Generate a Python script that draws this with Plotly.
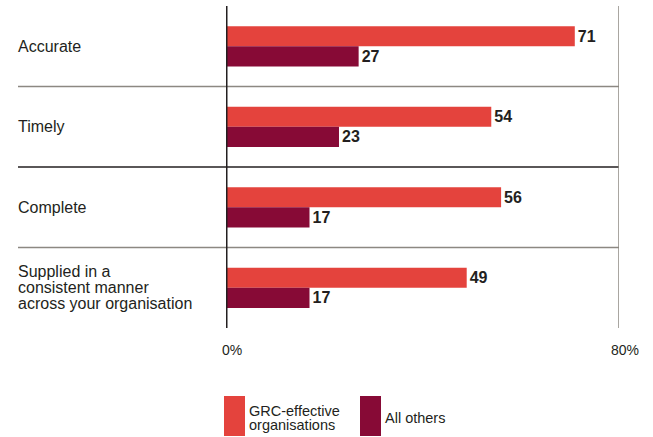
import plotly.graph_objects as go

# data (percent)
categories = ["Accurate", "Timely", "Complete",
              "Supplied in a<br>consistent manner<br>across your organisation"]
series_names = ["GRC-effective<br>organisations", "All others"]
grc_effective = [71, 54, 56, 49]
all_others = [27, 23, 17, 17]
tick_vals = [0, 80]
tick_text = ["0%", "80%"]

colors = ["#E4433D", "#870A36"]
text_color = "#231F20"
font_family = "Liberation Sans, Arial, Helvetica, sans-serif"

# plot area in pixels (653 x 437 page)
L, R, T, B = 226, 34, 6, 109
W, H = 653, 437
pw, ph = W - L - R, H - T - B


def px_x(p):
    return (p - L) / pw


def px_y(p):
    return (T + ph - p) / ph


fig = go.Figure()
for name, vals, col in zip(series_names, [grc_effective, all_others], colors):
    fig.add_trace(go.Bar(
        y=list(range(len(categories))), x=vals, name=name, orientation="h",
        marker=dict(color=col, line=dict(width=0)),
        text=vals, textposition="outside", cliponaxis=False,
        textfont=dict(family="Liberation Sans Narrow, Arial Narrow, " + font_family,
                      size=16, color=text_color, weight="bold"),
        showlegend=False,
    ))

shapes = []
# separators between categories
sep_colors = ["#8C8882", "#231F20", "#8C8882"]
for i, c in enumerate(sep_colors):
    shapes.append(dict(type="line", xref="paper", yref="y",
                       x0=px_x(18), x1=1, y0=i + 0.5, y1=i + 0.5,
                       line=dict(color=c, width=1.5)))
# right border at 80%
shapes.append(dict(type="line", xref="x", yref="paper", x0=80, x1=80, y0=0, y1=1,
                   line=dict(color="#8C8882", width=1.5)))
# zero axis
shapes.append(dict(type="line", xref="x", yref="paper", x0=0, x1=0, y0=0, y1=1,
                   line=dict(color="#231F20", width=3)))

annotations = []
# category labels, left aligned
for i, lab in enumerate(categories):
    lines = lab.split("<br>")
    n = len(lines)
    for j, ln in enumerate(lines):
        annotations.append(dict(
            text=ln, xref="paper", yref="y", x=px_x(16), y=i,
            xanchor="left", yanchor="middle", showarrow=False,
            yshift=((n - 1) / 2 - j) * 16,
            font=dict(family=font_family, size=16, color=text_color)))

# legend drawn as tall swatches
legend_x = [(224, 247), (360, 383)]
for (sx, tx), name, col in zip(legend_x, series_names, colors):
    shapes.append(dict(type="rect", xref="paper", yref="paper",
                       x0=px_x(sx), x1=px_x(sx + 21), y0=px_y(396), y1=px_y(436),
                       fillcolor=col, line=dict(width=0)))
    lines = name.split("<br>")
    n = len(lines)
    for j, ln in enumerate(lines):
        annotations.append(dict(
            text=ln, xref="paper", yref="paper", x=px_x(tx), y=px_y(418),
            xanchor="left", yanchor="middle", showarrow=False,
            yshift=((n - 1) / 2 - j) * 13.5,
            font=dict(family=font_family, size=14.5, color=text_color)))

fig.update_layout(
    width=W, height=H,
    margin=dict(l=L, r=R, t=T, b=B, pad=0),
    paper_bgcolor="white", plot_bgcolor="white",
    barmode="group", bargap=0.5, bargroupgap=0,
    shapes=shapes, annotations=annotations,
    xaxis=dict(range=[0, 80], tickvals=tick_vals, ticktext=tick_text,
               showgrid=False, zeroline=False, showline=False, ticks="",
               ticklabelshift=6, ticklabelstandoff=12,
               tickfont=dict(family=font_family, size=14, color=text_color)),
    yaxis=dict(range=[len(categories) - 0.5, -0.5], showticklabels=False,
               showgrid=False, zeroline=False, showline=False, ticks=""),
)

# drop the default body margin so the figure sits at the page corner
fig.write_html("out.html", config={"displayModeBar": False},
               post_script="document.body.style.margin='0';")
